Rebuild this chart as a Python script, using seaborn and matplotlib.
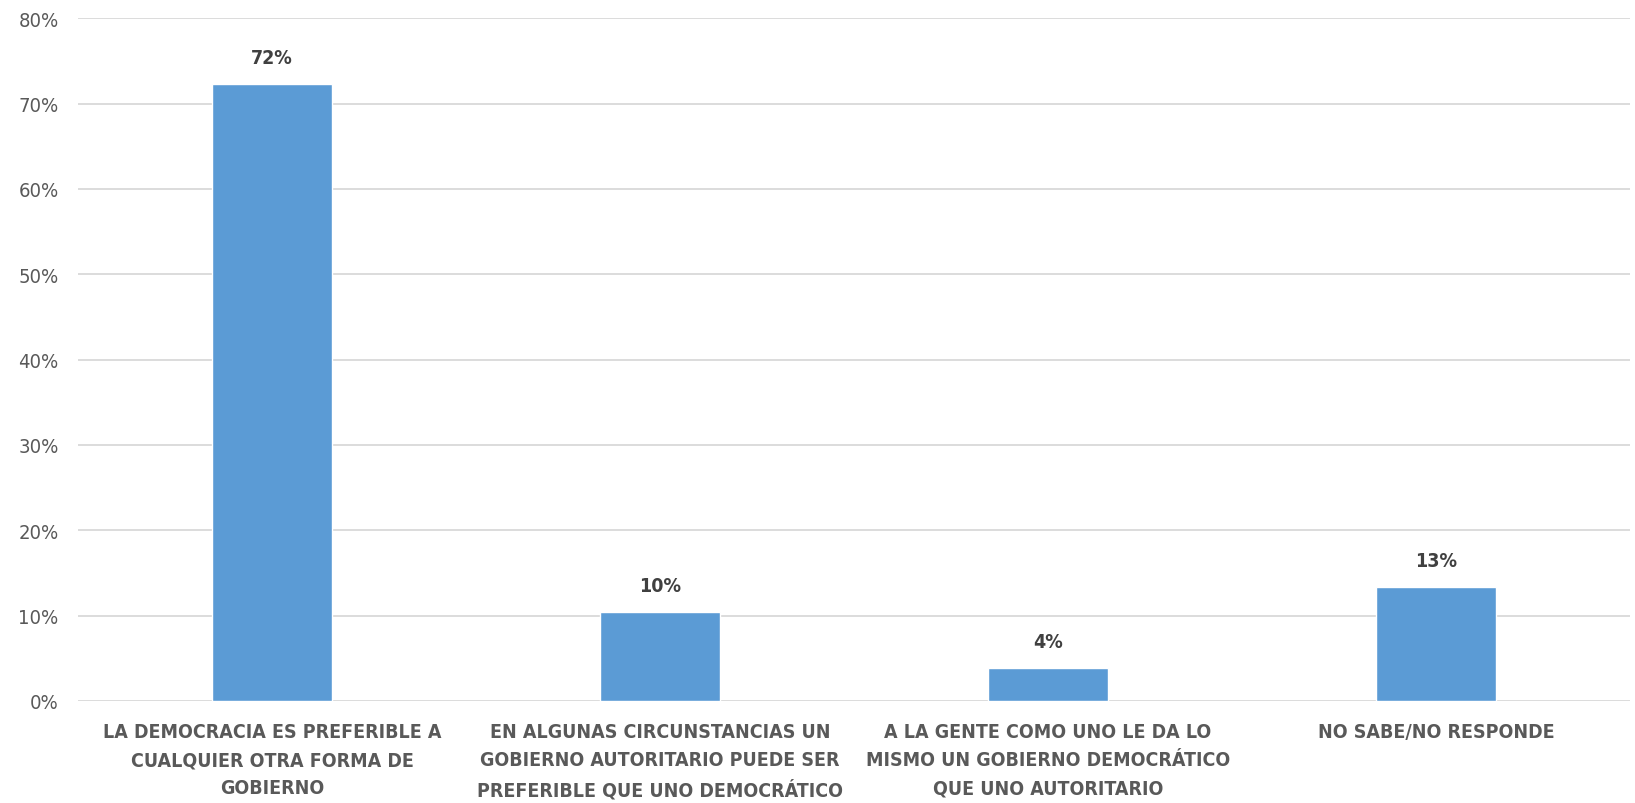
import matplotlib
matplotlib.use("Agg")
import matplotlib.pyplot as plt
import seaborn as sns
import pandas as pd

# data
categories = [
    "LA DEMOCRACIA ES PREFERIBLE A\nCUALQUIER OTRA FORMA DE\nGOBIERNO",
    "EN ALGUNAS CIRCUNSTANCIAS UN\nGOBIERNO AUTORITARIO PUEDE SER\nPREFERIBLE QUE UNO DEMOCRÁTICO",
    "A LA GENTE COMO UNO LE DA LO\nMISMO UN GOBIERNO DEMOCRÁTICO\nQUE UNO AUTORITARIO",
    "NO SABE/NO RESPONDE",
]
values = [72.3, 10.4, 3.9, 13.4]
value_labels = ["72%", "10%", "4%", "13%"]
y_ticks = [0, 10, 20, 30, 40, 50, 60, 70, 80]

df = pd.DataFrame({"cat": categories, "val": values})

sns.set_style("white")
plt.rcParams['font.family'] = ['DejaVu Sans']
plt.rcParams['font.stretch'] = 'condensed'

fig = plt.figure(figsize=(16.35, 8.04), dpi=100)
ax = fig.add_axes([0.0477, 0.127, 0.9493, 0.849])

sns.barplot(data=df, x="cat", y="val", color="#5B9BD5", saturation=1,
            width=0.31, ax=ax)

ax.set_ylim(0, 80)
ax.set_xlim(-0.5, 3.5)
ax.set_yticks(y_ticks)
ax.set_yticklabels([f"{t}%" for t in y_ticks])
ax.yaxis.grid(True, color="#D9D9D9", linewidth=1.3)
ax.set_axisbelow(True)
for s in ax.spines.values():
    s.set_visible(False)

ax.set_xlabel("")
ax.set_ylabel("")
ax.tick_params(axis="y", length=0, pad=14, labelsize=14.5, labelcolor="#595959")
ax.tick_params(axis="x", length=0, pad=15, labelsize=14, labelcolor="#595959")
for lbl in ax.get_xticklabels():
    lbl.set_fontweight("bold")
    lbl.set_fontstretch("condensed")
    lbl.set_linespacing(1.62)

ax.bar_label(ax.containers[0], labels=value_labels, padding=12,
             fontsize=14, fontweight="bold", color="#404040",
             fontstretch="condensed")

fig.savefig("out.png", dpi=100)
